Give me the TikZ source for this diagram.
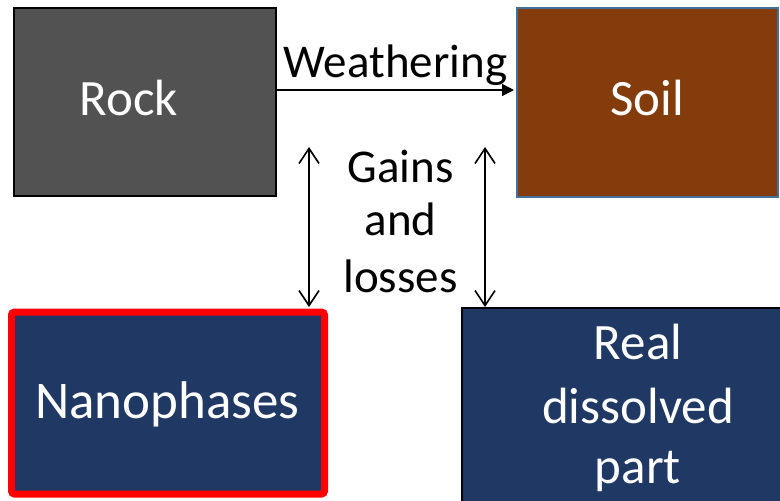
\documentclass[tikz,border=0pt]{standalone}
\usepackage{fontspec}
\setmainfont{Carlito}
\usetikzlibrary{arrows.meta}
\definecolor{rockgray}{HTML}{525252}
\definecolor{soilbrown}{HTML}{843C0C}
\definecolor{soilline}{HTML}{41719C}
\definecolor{navy}{HTML}{203864}
\begin{document}
\begin{tikzpicture}[x=1pt,y=-1pt,
  box/.style={rectangle,inner sep=0pt,outer sep=0pt},
  boxtext/.style={anchor=base,text=white,inner sep=0pt,font=\fontsize{51}{61}\selectfont},
  labeltext/.style={anchor=base,text=black,inner sep=0pt,font=\fontsize{47}{56}\selectfont},
  twoway/.style={{Straight Barb[length=15pt,width=20pt,line width=1.6pt]}-{Straight Barb[length=15pt,width=20pt,line width=1.6pt]},line width=1.6pt},
  oneway/.style={-{Triangle[open,length=12pt,width=12pt,line width=1.5pt,fill=black]},line width=2.5pt}]
\clip (0,0) rectangle (780,501);
\fill[white] (0,0) rectangle (780,501);
% boxes
\node[box,draw=black,line width=1.5pt,fill=rockgray,minimum width=262pt,minimum height=188pt] (rock) at (145,102) {};
\node[box,draw=soilline,line width=1.5pt,fill=soilbrown,minimum width=261pt,minimum height=189pt] (soil) at (647.5,102.5) {};
\node[box,draw=red,line width=7pt,rounded corners=3pt,fill=navy,minimum width=313pt,minimum height=182pt] (nano) at (168,403) {};
\node[box,draw=black,line width=1.5pt,fill=navy,minimum width=352pt,minimum height=232pt] (real) at (638,424) {};
% texts
\node[boxtext] (rockt) at (129,115) {Rock};
\node[boxtext] (soilt) at (647,115) {Soil};
\node[boxtext,font=\fontsize{53}{63}\selectfont] (nanot) at (167.5,418) {Nanophases};
\node[boxtext] (realt1) at (638,359) {Real};
\node[boxtext] (realt2) at (638,423) {dissolved};
\node[boxtext] (realt3) at (638,483) {part};
\node[labeltext] (weath) at (395.5,77) {Weathering};
\node[labeltext] (gains1) at (400.5,182) {Gains};
\node[labeltext] (gains2) at (400.5,235) {and};
\node[labeltext] (gains3) at (400.5,292) {losses};
% connectors
\coordinate (wa) at (rock.east |- 0,90);
\coordinate (wb) at (514,90);
\draw[oneway] (wa) -- (wb);
\coordinate (la) at (309,147);
\coordinate (lb) at (309,307);
\coordinate (ra) at (485,147);
\coordinate (rb) at (485,307);
\draw[twoway] (la) -- (lb);
\draw[twoway] (ra) -- (rb);
\end{tikzpicture}
\end{document}
